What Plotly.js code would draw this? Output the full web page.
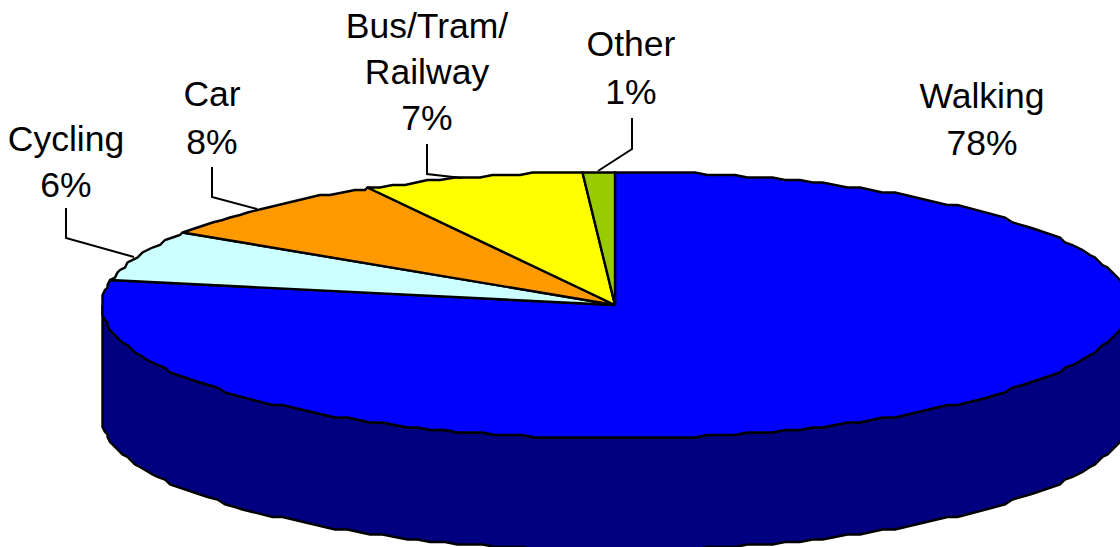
<!DOCTYPE html>
<html>
<head>
<meta charset="utf-8">
<script src="https://cdn.plot.ly/plotly-3.0.1.min.js"></script>
<style>html,body{margin:0;padding:0;background:#fff}#chart{width:1120px;height:547px}</style>
</head>
<body>
<div id="chart"></div>
<script>
// Modal split shares, clockwise from twelve o'clock
const categories = ["Walking", "Cycling", "Car", "Bus/Tram/Railway", "Other"];
const shares = [78, 6, 8, 7, 1];
const sliceColors = ["#0000FF", "#CCFFFF", "#FF9900", "#FFFF00", "#99CC00"];
const wallColor = "#000080";

// Label lines (the last line of each is its share) and their centres
const labelLines = [["Walking"], ["Cycling"], ["Car"], ["Bus/Tram/", "Railway"], ["Other"]];
const labelX = [982, 66, 212, 427, 631];
const labelTopY = [99, 142, 97, 29, 47];
const labelStep = [47, 46, 48, 46, 48];

// Leader lines running from each label to its slice
const leaderX = [null, [66, 66, 134], [212, 212, 257], [427, 427, 462], [632, 632, 598]];
const leaderY = [null, [208, 238, 257], [167, 197, 209], [144, 174, 178], [118, 149, 171]];

// Tilted disc: centre, radii and wall height on a pixel-sized axis
const cx = 615, cy = 305, rx = 513, ry = 133, wall = 112;

// The outline is snapped to a coarse grid, which gives the rim its stepped look
const snap = v => Math.round(v / 2.5) * 2.5;
const rim = (deg, dy = 0) => {
  const a = deg * Math.PI / 180;
  return [snap(cx + rx * Math.sin(a)), snap(cy - ry * Math.cos(a)) + dy];
};

const outline = {color: "#000", width: 2.4};
const traces = [];

// Outer wall below the front half of the disc
const wallPts = [];
for (let d = 90; d <= 270; d += 1.5) wallPts.push(rim(d));
for (let d = 270; d >= 90; d -= 1.5) wallPts.push(rim(d, wall));
wallPts.push(wallPts[0]);
traces.push({
  x: wallPts.map(p => p[0]), y: wallPts.map(p => p[1]),
  mode: "lines", fill: "toself", fillcolor: wallColor,
  line: outline, hoverinfo: "skip"
});

// Top face slices
let cumulative = 0;
shares.forEach((share, i) => {
  const from = cumulative * 3.6;
  cumulative += share;
  const to = cumulative * 3.6;
  const pts = [[cx, cy]];
  for (let d = from; d < to; d += 1.5) pts.push(rim(d));
  pts.push(rim(to), [cx, cy]);
  traces.push({
    name: categories[i],
    x: pts.map(p => p[0]), y: pts.map(p => p[1]),
    mode: "lines", fill: "toself", fillcolor: sliceColors[i],
    line: outline, hoverinfo: "skip"
  });
});

// Leader lines
leaderX.forEach((xs, i) => {
  if (!xs) return;
  traces.push({
    x: xs, y: leaderY[i], mode: "lines",
    line: {color: "#000", width: 2}, hoverinfo: "skip"
  });
});

// Category and percentage labels, one text point per line
const textX = [], textY = [], textValues = [];
labelLines.forEach((lines, i) => {
  const all = lines.concat(shares[i] + "%");
  all.forEach((t, j) => {
    textX.push(labelX[i]);
    textY.push(labelTopY[i] + j * labelStep[i]);
    textValues.push(t);
  });
});
traces.push({
  x: textX, y: textY, text: textValues, mode: "text",
  textposition: "middle center",
  textfont: {family: "Liberation Sans, Arial, sans-serif", size: 35.5, color: "#000"},
  hoverinfo: "skip", cliponaxis: false
});

const hiddenAxis = {visible: false, fixedrange: true};
Plotly.newPlot("chart", traces, {
  width: 1120, height: 547,
  margin: {l: 0, r: 0, t: 0, b: 0},
  paper_bgcolor: "#fff", plot_bgcolor: "#fff",
  showlegend: false,
  xaxis: Object.assign({range: [0, 1120]}, hiddenAxis),
  yaxis: Object.assign({range: [547, 0]}, hiddenAxis)
}, {displayModeBar: false, staticPlot: true});
</script>
</body>
</html>
